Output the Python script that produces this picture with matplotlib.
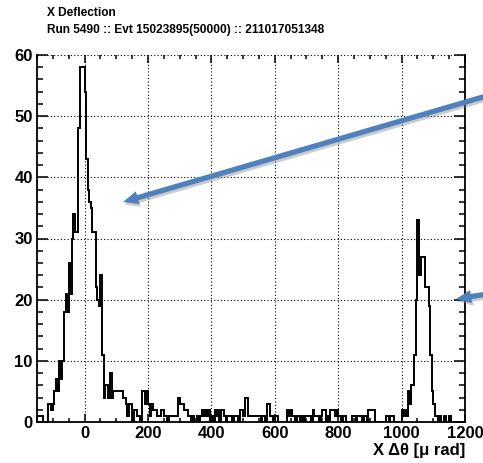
import numpy as np
import matplotlib
matplotlib.use('Agg')
import matplotlib.pyplot as plt
from matplotlib.patches import FancyArrowPatch
from matplotlib.transforms import IdentityTransform
from matplotlib.ticker import MultipleLocator

plt.rcParams['font.family'] = ['Liberation Sans', 'DejaVu Sans']
plt.rcParams['font.weight'] = 'bold'

# гистограмма отклонения, бины по 5 мкрад от -150 до 1200
BIN_WIDTH = 5
X_MIN, X_MAX = -150, 1200

# -150 ... 95
core_counts = [1, 1, 1, 1, 0, 0, 0, 3, 3, 2, 3, 5, 7, 5, 10, 7, 10, 18, 21, 18,
               26, 21, 30, 34, 31, 31, 48, 58, 58, 58, 54, 43, 38, 36, 35, 31, 31, 22, 20, 19,
               24, 11, 4, 6, 6, 4, 8, 4, 5, 5]
# 100 ... 945
tail_counts = [5, 5, 5, 5, 4, 4, 3, 1, 3, 3, 0, 2, 2, 1, 1, 0, 5, 5, 3, 5,
               3, 1, 3, 2, 2, 2, 1, 1, 2, 2, 1, 1, 0, 1, 1, 1, 1, 1, 1, 4,
               3, 3, 3, 2, 2, 1, 1, 0, 1, 0, 0, 1, 0, 1, 2, 1, 2, 1, 2, 0,
               1, 0, 2, 1, 2, 0, 2, 2, 1, 0, 1, 1, 1, 0, 1, 1, 1, 0, 2, 2,
               1, 4, 4, 1, 1, 1, 1, 1, 1, 1, 1, 0, 1, 1, 0, 3, 3, 1, 1, 0,
               1, 1, 0, 0, 0, 0, 0, 0, 2, 1, 2, 1, 1, 0, 1, 1, 0, 1, 0, 1,
               1, 1, 1, 0, 2, 1, 1, 1, 0, 1, 2, 2, 0, 1, 0, 2, 2, 2, 1, 2,
               1, 1, 0, 1, 1, 0, 0, 0, 0, 1, 1, 0, 1, 1, 1, 0, 1, 1, 0, 2,
               2, 2, 2, 0, 0, 0, 0, 0, 0, 0]
# 950 ... 1195
peak2_counts = [1, 1, 0, 1, 1, 0, 0, 0, 0, 0, 2, 1, 2, 1, 5, 3, 6, 6, 11, 20,
                33, 24, 27, 27, 27, 22, 22, 19, 11, 5, 3, 1, 1, 0, 1, 0, 0, 1, 0, 0,
                1, 0, 0, 0, 0, 0, 0, 0, 0, 0]

title_text = 'X Deflection'
run_text = 'Run 5490 :: Evt 15023895(50000) :: 211017051348'
x_title = 'X Δθ [μ rad]'

counts = np.array(core_counts + tail_counts + peak2_counts)
edges = np.arange(X_MIN, X_MAX + BIN_WIDTH, BIN_WIDTH)

W, H = 483, 463
fig = plt.figure(figsize=(W / 100, H / 100), dpi=100)
ax = fig.add_axes([37 / W, 1 - 422 / H, 428 / W, 367 / H])

ax.stairs(counts, edges, color='black', lw=1.4, baseline=0)

ax.set_xlim(X_MIN, X_MAX)
ax.set_ylim(0, 60)
ax.xaxis.set_major_locator(MultipleLocator(200))
ax.xaxis.set_minor_locator(MultipleLocator(50))
ax.yaxis.set_major_locator(MultipleLocator(10))
ax.yaxis.set_minor_locator(MultipleLocator(2))
ax.grid(True, which='major', ls=(0, (1, 2)), color='black', lw=0.8)
ax.set_axisbelow(True)

ax.tick_params(axis='both', which='both', direction='in', top=True, right=True,
               width=1.1, labelsize=12, pad=3)
ax.tick_params(axis='x', which='major', length=6)
ax.tick_params(axis='x', which='minor', length=3)
ax.tick_params(axis='y', which='major', length=8)
ax.tick_params(axis='y', which='minor', length=4.5)
for lab in ax.get_xticklabels() + ax.get_yticklabels():
    lab.set_fontweight('bold')

ax.spines['top'].set_visible(False)
for side in ('left', 'right', 'bottom'):
    ax.spines[side].set_linewidth(1.3)

ax.set_xlabel(x_title, loc='right', fontsize=12, fontweight='bold', labelpad=1)

fig.text(47 / W, 1 - 13 / H, title_text, fontsize=8.6, fontweight='bold', va='center')
fig.text(47 / W, 1 - 30 / H, run_text, fontsize=8.6, fontweight='bold', va='center')

# стрелки-указатели на пики
arrow_style = 'simple,head_length=11,head_width=9.5,tail_width=3.8'
for (x0, y0), (x1, y1) in [((500, 92), (123, 202)), ((500, 292), (456, 299))]:
    shadow = FancyArrowPatch((x0 + 1.5, H - y0 - 2.5), (x1 + 1.5, H - y1 - 2.5),
                             arrowstyle=arrow_style, mutation_scale=1,
                             shrinkA=0, shrinkB=0, transform=IdentityTransform(),
                             color='#7f7f7f', alpha=0.4, lw=0)
    arrow = FancyArrowPatch((x0, H - y0), (x1, H - y1),
                            arrowstyle=arrow_style, mutation_scale=1,
                            shrinkA=0, shrinkB=0, transform=IdentityTransform(),
                            color='#4f81bd', lw=0)
    fig.add_artist(shadow)
    fig.add_artist(arrow)

fig.savefig('out.png', dpi=100)
